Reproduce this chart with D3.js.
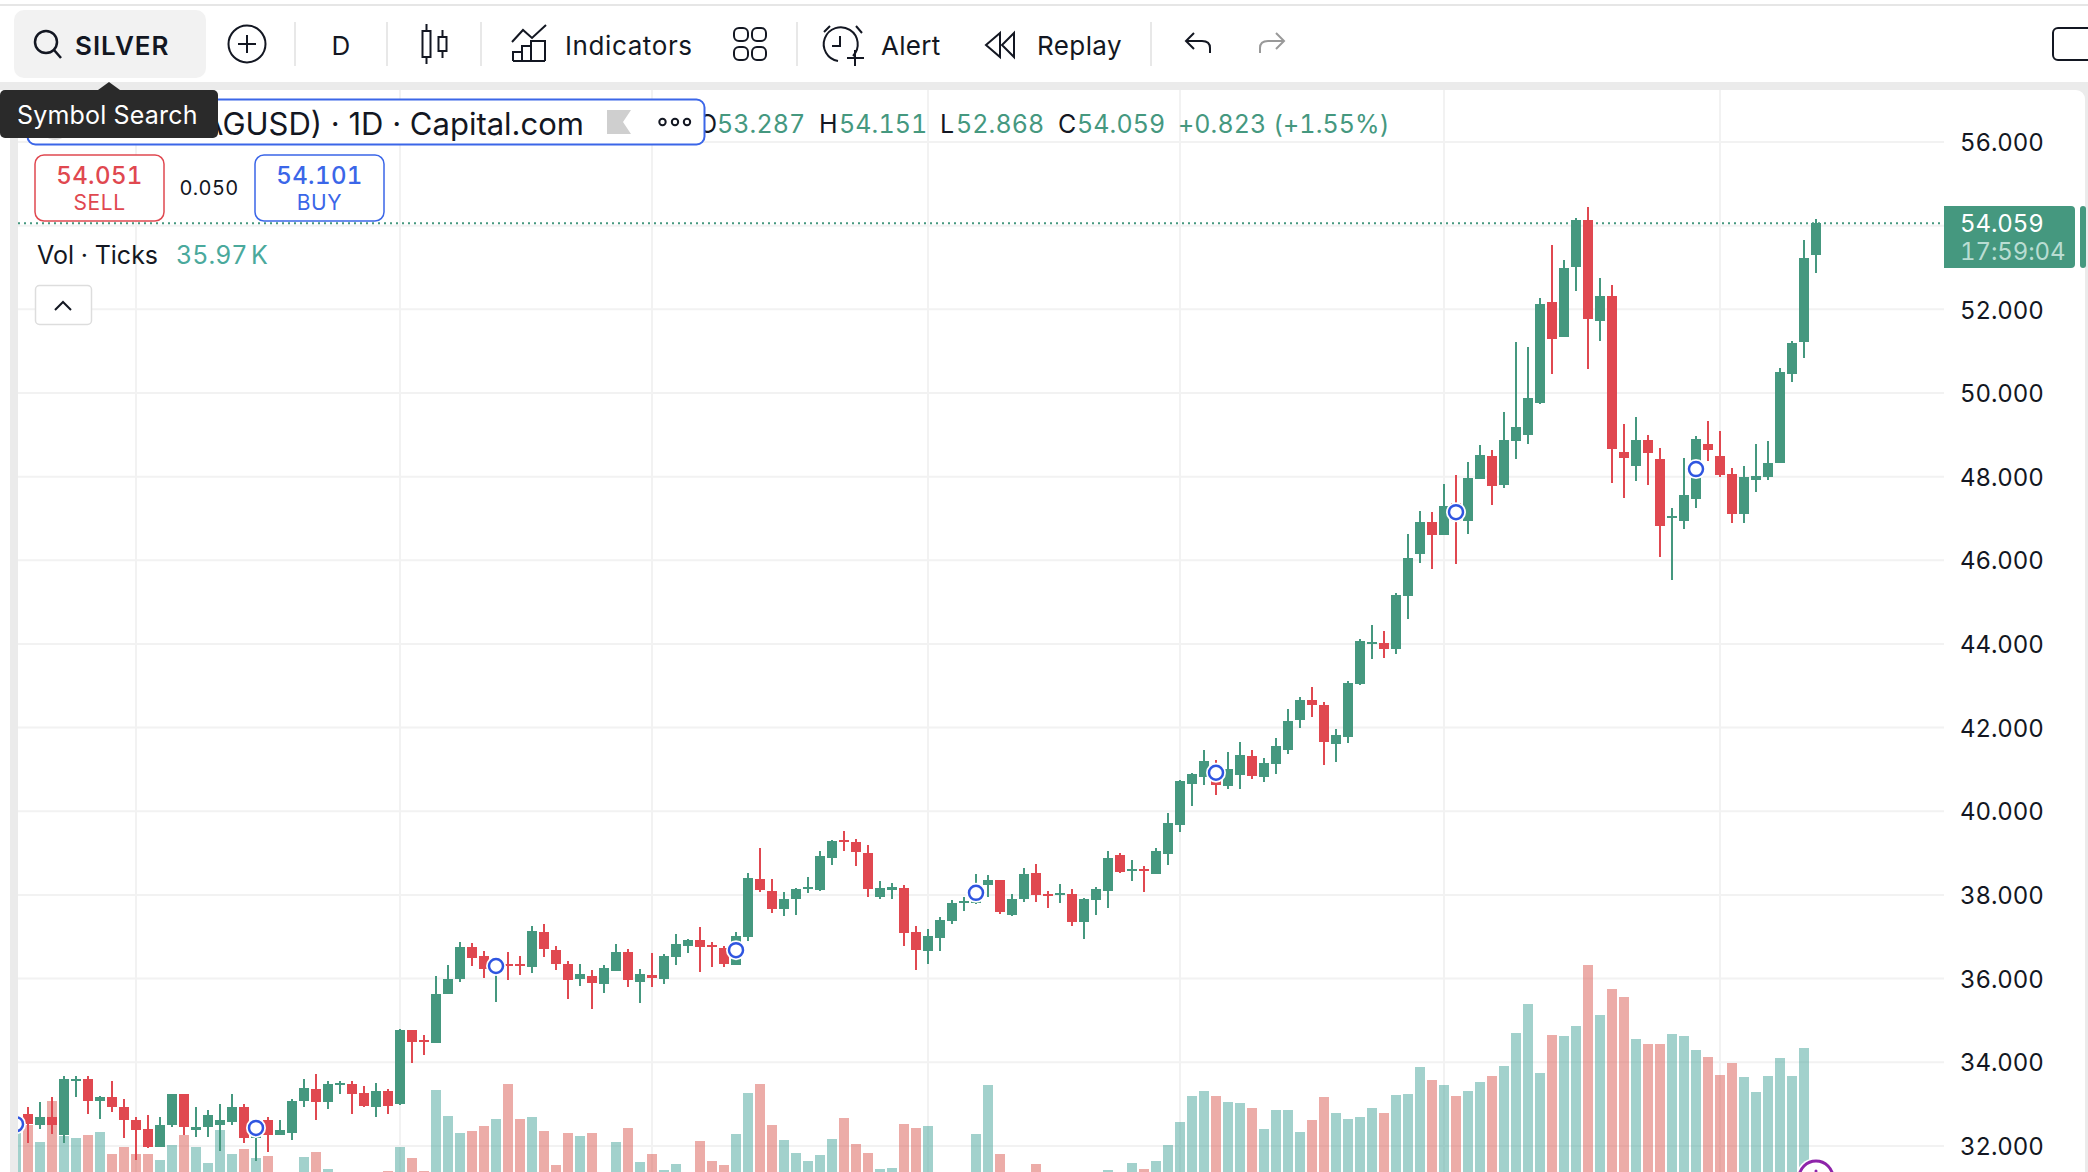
<!DOCTYPE html>
<html>
<head>
<meta charset="utf-8">
<script src="https://cdnjs.cloudflare.com/ajax/libs/d3/7.8.5/d3.min.js"></script>
<style>
  html, body { margin: 0; padding: 0; background: #fff; overflow: hidden; }
  text { font-family: Inter, "Noto Sans", sans-serif; font-variant-numeric: tabular-nums; font-feature-settings: "tnum" 1; }
</style>
</head>
<body>
<script>
// Daily candles, oldest first
var opens = [
  32.39,32.77,32.49,32.68,32.25,33.56,33.59,33.08,33.16,32.92,
  32.61,32.41,31.98,32.49,33.25,32.39,32.44,32.51,32.58,32.94,
  32.20,32.63,32.27,32.32,33.08,33.35,33.06,33.47,33.49,33.27,
  32.92,33.32,32.99,34.76,34.54,34.45,35.62,35.98,36.76,36.55,
  36.14,36.35,36.35,36.28,37.12,36.69,36.35,35.99,36.06,35.87,
  36.18,36.64,35.92,36.09,35.99,36.52,36.78,36.92,36.81,36.73,
  36.33,37.00,38.38,38.10,37.67,37.90,38.14,38.12,38.89,39.31,
  39.27,39.00,37.95,38.12,38.16,37.11,36.65,36.96,37.37,37.80,
  37.80,38.23,38.35,37.51,37.90,38.52,38.02,37.99,38.02,37.35,
  37.87,38.09,38.95,38.57,38.61,38.49,38.97,39.67,40.65,40.81,
  41.14,40.60,40.86,41.31,40.81,41.12,41.46,42.18,42.66,42.54,
  41.60,41.78,43.04,44.00,44.02,43.88,45.15,46.15,46.92,46.61,
  47.36,46.94,47.94,48.49,47.80,48.85,48.99,49.75,52.17,51.35,
  53.00,54.13,51.71,52.31,48.58,48.25,48.87,48.41,47.02,46.95,
  47.47,48.77,48.49,48.07,47.11,47.91,47.98,48.32,50.45,51.21,
  53.287]
var closes = [
  32.67,32.53,32.68,32.49,33.59,33.61,33.08,33.16,32.92,32.61,
  32.39,31.98,32.49,33.23,32.44,32.46,32.73,32.61,32.92,32.20,
  32.53,32.27,32.37,33.08,33.39,33.04,33.49,33.51,33.25,32.96,
  33.32,32.96,34.76,34.49,34.49,35.64,35.98,36.76,36.50,36.22,
  36.43,36.30,36.30,37.14,36.71,36.35,35.97,36.11,35.90,36.26,
  36.64,35.97,36.11,36.02,36.54,36.83,36.92,36.76,36.76,36.35,
  37.02,38.41,38.12,37.67,37.90,38.14,38.19,38.93,39.29,39.27,
  39.03,38.14,38.17,38.19,37.08,36.68,37.01,37.39,37.80,37.85,
  38.19,38.35,37.59,37.90,38.49,37.99,37.97,38.04,37.35,37.90,
  38.14,38.88,38.54,38.61,38.57,39.04,39.71,40.72,40.88,41.19,
  40.62,41.00,41.34,40.84,41.15,41.55,42.16,42.66,42.54,41.65,
  41.82,43.07,44.07,44.05,43.88,45.17,46.06,46.92,46.61,47.30,
  46.95,47.97,48.52,47.78,48.88,49.19,49.87,52.12,51.28,52.98,
  54.13,51.76,52.33,48.65,48.44,48.87,48.56,46.83,47.07,47.55,
  48.91,48.63,48.03,47.11,48.00,48.01,48.32,50.49,51.19,53.22,
  54.059]
var highs = [
  32.79,32.94,33.06,33.16,33.68,33.68,33.68,33.20,33.54,33.11,
  32.68,32.73,32.68,33.25,33.25,32.94,32.87,32.99,33.23,32.99,
  32.55,32.70,32.63,33.13,33.59,33.71,33.54,33.56,33.54,33.44,
  33.51,33.35,34.80,34.76,34.66,36.07,36.33,36.88,36.84,36.65,
  36.49,36.64,36.54,37.26,37.31,36.78,36.42,36.35,36.21,36.33,
  36.83,36.71,36.23,36.61,36.59,37.07,36.95,37.23,36.88,36.78,
  37.12,38.53,39.12,38.38,38.07,38.17,38.43,39.05,39.31,39.53,
  39.34,39.20,38.33,38.29,38.23,37.25,37.18,37.47,37.87,37.94,
  38.49,38.47,38.35,38.02,38.64,38.73,38.09,38.25,38.14,37.92,
  38.18,39.04,39.00,38.83,38.69,39.12,39.95,40.74,40.91,41.46,
  41.22,41.41,41.65,41.46,41.27,41.74,42.45,42.73,42.97,42.61,
  41.97,43.12,44.12,44.45,44.31,45.22,46.63,47.18,47.16,47.82,
  48.04,48.35,48.76,48.64,49.55,51.22,51.09,52.26,53.53,53.17,
  54.18,54.44,52.74,52.57,49.27,49.42,48.99,48.69,47.26,48.45,
  48.98,49.32,49.08,48.21,48.26,48.77,48.84,50.59,51.24,53.65,
  54.151]
var lows = [
  32.31,32.08,32.41,32.29,32.08,33.18,32.77,32.65,32.80,32.18,
  31.67,31.94,31.98,32.44,32.25,32.22,32.22,31.89,32.51,32.08,
  31.65,31.86,32.25,32.13,32.94,32.61,32.89,33.25,32.77,32.92,
  32.70,32.77,32.97,33.97,34.18,34.45,35.62,35.93,36.31,36.02,
  35.44,35.97,36.09,36.14,36.52,36.21,35.51,35.83,35.27,35.66,
  36.18,35.80,35.42,35.80,35.87,36.33,36.61,36.16,36.28,36.28,
  36.33,36.90,38.07,37.57,37.50,37.52,38.05,38.10,38.72,39.05,
  38.69,37.95,37.90,37.90,36.77,36.20,36.34,36.65,37.30,37.61,
  37.79,37.94,37.54,37.49,37.83,37.83,37.68,37.80,37.25,36.94,
  37.51,37.68,38.52,38.33,38.06,38.49,38.71,39.50,40.12,40.62,
  40.38,40.53,40.53,40.77,40.69,40.88,41.36,41.99,42.25,41.10,
  41.17,41.63,43.02,43.64,43.67,43.76,44.60,45.94,45.79,46.61,
  45.91,46.63,47.94,47.32,47.73,48.42,48.77,49.73,50.45,51.35,
  52.43,50.57,51.24,47.84,47.48,47.89,47.79,46.09,45.54,46.76,
  47.26,48.37,47.98,46.88,46.88,47.63,47.91,48.32,50.27,50.83,
  52.868]
// Tick volume in thousands, bars under the crop are estimates
var volumes = [
  55.7,58.3,52.7,66.3,54.7,54,55,56,48.7,51,
  48.7,48.7,46.7,51.7,55,51,45.7,56.7,48.7,50.3,
  47.3,48,41,40,47.7,49.3,43.7,40,38,39,
  41,43,51,47.3,43,70,61.3,55.7,56.3,58,
  60.3,72,60.3,61,56.3,45,55.7,54.7,55.7,41,
  52.7,57.3,46,48.7,43.3,45.3,41,53,46.3,45,
  55.3,69,72,58.3,53.3,49,46.3,48.3,53.7,60.7,
  52,49,43.7,44,58.7,57.3,58,41,40,41,
  55.3,71.7,48.7,41,40,45.3,39,41,40,41,
  42,43.3,41,45.7,43.7,46.3,51.7,59.3,68,69.7,
  68,66,65.7,64,57,63.3,63.3,56,60,67.7,
  62.3,60.3,61,64,62.3,68.3,68.7,77.7,73.3,71.7,
  68,69.7,72.7,74.7,78,89,98.7,75.7,88.3,88,
  91.3,111.7,95,103.7,101,87,85.3,85.3,88.7,88,
  83.3,81,75,79,74.3,69.3,74.7,80.7,74.7,84,
  35.97]
var priceTicks = [32,34,36,38,40,42,44,46,48,50,52,54,56]
// 54 sits behind the last price label, so it gets a grid line but no text
var priceLabels = [32,34,36,38,40,42,44,46,48,50,52,56]
var gridBars = [10,32,53,76,97,119,142]
var eventBars = [0,20,40,60,80,100,120,140]
var eventPrices = [32.52,32.43,36.30,36.68,38.05,40.92,47.15,48.18]

var width = 2088, height = 1172
var plot = {left:18, right:1944, top:90, bottom:1172}
var green = '#45987f', red = '#e04850', blue = '#3b66e8', band = '#ebebeb', ink = '#131722'

var svg = d3.select('body').append('svg')
  .attr('width', width).attr('height', height)
  .style('display', 'block')

var x = d3.scaleLinear().domain([0, 150]).range([16, 1816])
var y = d3.scaleLinear().domain([32, 56]).range([1145.9, 142])
var yVol = d3.scaleLinear().domain([0, 100]).range([1300, 1000])

var isUp = function(i){ return closes[i] >= opens[i] }
var bars = d3.range(opens.length)

// Page frame
svg.append('rect').attr('width', width).attr('height', height).attr('fill', '#fff')
svg.append('rect').attr('x', 0).attr('y', 4).attr('width', width).attr('height', 2).attr('fill', '#e6e6e6')
svg.append('rect').attr('x', 0).attr('y', 82).attr('width', width).attr('height', 8).attr('fill', band)
svg.append('rect').attr('x', 10).attr('y', 82).attr('width', 8).attr('height', height - 82).attr('fill', band)
svg.append('rect').attr('x', 2085).attr('y', 82).attr('width', 3).attr('height', height - 82).attr('fill', band)
svg.append('path').attr('d', 'M2076 90 H2085 V99 A9 9 0 0 0 2076 90 Z').attr('fill', band)

svg.append('clipPath').attr('id', 'plot-clip').append('rect')
  .attr('x', plot.left).attr('y', plot.top)
  .attr('width', plot.right - plot.left).attr('height', plot.bottom - plot.top)

var chart = svg.append('g').attr('clip-path', 'url(#plot-clip)')

// Grid
chart.append('g').selectAll('line').data(priceTicks).enter().append('line')
  .attr('x1', plot.left).attr('x2', plot.right)
  .attr('y1', function(d){ return y(d) }).attr('y2', function(d){ return y(d) })
  .attr('stroke', '#f2f2f2').attr('stroke-width', 2)
chart.append('g').selectAll('line').data(gridBars).enter().append('line')
  .attr('x1', function(d){ return x(d) }).attr('x2', function(d){ return x(d) })
  .attr('y1', plot.top).attr('y2', plot.bottom)
  .attr('stroke', '#f2f2f2').attr('stroke-width', 2)

// Volume
chart.append('g').selectAll('rect').data(bars).enter().append('rect')
  .attr('x', function(i){ return x(i) - 5 })
  .attr('width', 10)
  .attr('y', function(i){ return yVol(volumes[i]) })
  .attr('height', function(i){ return yVol(0) - yVol(volumes[i]) })
  .attr('fill', function(i){ return isUp(i) ? '#45a399' : '#d95951' })
  .attr('fill-opacity', 0.5)
  .attr('shape-rendering', 'crispEdges')

// Last price line
chart.append('line')
  .attr('x1', plot.left).attr('x2', plot.right)
  .attr('y1', y(closes[150])).attr('y2', y(closes[150]))
  .attr('stroke', green).attr('stroke-width', 2).attr('stroke-dasharray', '2,4')

// Candles
var candles = chart.append('g').attr('shape-rendering', 'crispEdges')
candles.selectAll('.wick').data(bars).enter().append('rect')
  .attr('class', 'wick')
  .attr('x', function(i){ return x(i) - 1 })
  .attr('width', 2)
  .attr('y', function(i){ return y(highs[i]) })
  .attr('height', function(i){ return y(lows[i]) - y(highs[i]) })
  .attr('fill', function(i){ return isUp(i) ? green : red })
candles.selectAll('.body').data(bars).enter().append('rect')
  .attr('class', 'body')
  .attr('x', function(i){ return x(i) - 5 })
  .attr('width', 10)
  .attr('y', function(i){ return y(Math.max(opens[i], closes[i])) })
  .attr('height', function(i){ return Math.max(2, Math.abs(y(opens[i]) - y(closes[i]))) })
  .attr('fill', function(i){ return isUp(i) ? green : red })

// Event markers
var events = chart.append('g').selectAll('g').data(eventBars).enter().append('g')
  .attr('transform', function(d, k){ return 'translate(' + x(d) + ',' + y(eventPrices[k]) + ')' })
events.append('circle').attr('r', 10).attr('fill', '#fff')
events.append('circle').attr('r', 7).attr('fill', '#fff').attr('stroke', '#2f55e0').attr('stroke-width', 2.5)

chart.append('circle').attr('cx', x(150)).attr('cy', 1178).attr('r', 20).attr('fill', '#fff')
chart.append('circle').attr('cx', x(150)).attr('cy', 1178).attr('r', 17)
  .attr('fill', '#fff').attr('stroke', '#8e24aa').attr('stroke-width', 3)
chart.append('circle').attr('cx', x(150)).attr('cy', 1171).attr('r', 1.5).attr('fill', '#8e24aa')

// Price axis
var axis = svg.append('g').attr('transform', 'translate(1960,1)')
  .call(d3.axisRight(y).tickValues(priceLabels).tickSize(0).tickPadding(0)
    .tickFormat(function(d){ return d3.format('.3f')(d) }))
axis.select('.domain').remove()
axis.selectAll('text').style('font-family', 'Inter, sans-serif').style('font-size', '24px')
  .style('letter-spacing', '-0.1px').attr('fill', ink)

// Last price label
svg.append('path').attr('d', 'M1944 206 H2071 Q2075 206 2075 210 V264 Q2075 268 2071 268 H1944 Z').attr('fill', green)
svg.append('rect').attr('x', 2080).attr('y', 206).attr('width', 6).attr('height', 62).attr('rx', 3).attr('fill', green)
var addText = function(parent, str, px, py, size, color, opts) {
  opts = opts || {}
  return parent.append('text').attr('x', px).attr('y', py).text(str)
    .attr('fill', color).attr('font-size', size)
    .attr('text-anchor', opts.anchor || 'start')
    .attr('font-weight', opts.weight || 400)
    .style('letter-spacing', (opts.spacing || 0) + 'px')
    .attr('dominant-baseline', 'central')
}
addText(svg, '54.059', 1960, 223, 24, '#fff', {spacing:-0.1})
addText(svg, '17:59:04', 1960, 251, 24, '#b9ddd2', {spacing:-0.1})

// Legend
addText(svg, 'O', 698, 124, 25, ink)
svg.append('rect').attr('x', 27.5).attr('y', 99.5).attr('width', 677).attr('height', 45).attr('rx', 8)
  .attr('fill', '#fff').attr('stroke', blue).attr('stroke-width', 2)
svg.append('circle').attr('cx', 55).attr('cy', 127).attr('r', 13).attr('fill', '#ddd')
addText(svg, '(XAGUSD) · 1D · Capital.com', 584, 123, 31, ink, {anchor:'end'})
  .style('font-feature-settings', '"tnum" 0').style('font-variant-numeric', 'normal')
svg.append('path').attr('d', 'M607 110 H631 L623 122 L631 134 H607 Z').attr('fill', '#cfcfcf')
svg.append('g').selectAll('circle').data([662.5,675,687]).enter().append('circle')
  .attr('cx', function(d){ return d }).attr('cy', 122).attr('r', 3.2)
  .attr('fill', 'none').attr('stroke', ink).attr('stroke-width', 2)

var ohlc = [
  ['53.287', 717, green], ['H', 819, ink], ['54.151', 839, green], ['L', 940, ink], ['52.868', 956, green],
  ['C', 1058, ink], ['54.059', 1077, green], ['+0.823 (+1.55%)', 1178, green]
]
ohlc.forEach(function(t){ addText(svg, t[0], t[1], 124, 25, t[2], {spacing:0.1}) })

// Sell and buy boxes
var tradeBox = function(left, color, price, label) {
  svg.append('rect').attr('x', left).attr('y', 155).attr('width', 129).attr('height', 66).attr('rx', 9)
    .attr('fill', '#fff').attr('stroke', color).attr('stroke-width', 1.5)
  addText(svg, price, left + 64.5, 175, 24, color, {anchor:'middle', weight:500, spacing:0.4})
  addText(svg, label, left + 64.5, 202, 21, color, {anchor:'middle', spacing:0.6})
}
tradeBox(35, red, '54.051', 'SELL')
tradeBox(255, blue, '54.101', 'BUY')
addText(svg, '0.050', 209, 188, 20, ink, {anchor:'middle', spacing:0.4})

addText(svg, 'Vol · Ticks', 37, 255, 25, ink)
addText(svg, '35.97', 176, 255, 25, '#4aa99c')
addText(svg, 'K', 251, 255, 25, '#4aa99c')
svg.append('rect').attr('x', 35.5).attr('y', 285.5).attr('width', 56).attr('height', 39).attr('rx', 4)
  .attr('fill', '#fff').attr('stroke', '#ddd').attr('stroke-width', 1.5)
svg.append('path').attr('d', 'M55 310 L63 302 L71 310').attr('fill', 'none').attr('stroke', ink).attr('stroke-width', 2)

// Toolbar
var tool = svg.append('g').attr('fill', 'none').attr('stroke', ink).attr('stroke-width', 2)
svg.insert('rect', 'g').attr('x', 14).attr('y', 10).attr('width', 192).attr('height', 68).attr('rx', 10).attr('fill', '#f2f2f2')
tool.append('circle').attr('cx', 46).attr('cy', 42).attr('r', 11).attr('stroke-width', 2.5)
tool.append('path').attr('d', 'M54 50 L61 58').attr('stroke-width', 2.5)
addText(svg, 'SILVER', 75, 45, 26, ink, {weight:600, spacing:1})
tool.append('circle').attr('cx', 247).attr('cy', 44).attr('r', 18.5)
tool.append('path').attr('d', 'M238 44 H256 M247 35 V53')
svg.append('g').selectAll('line').data([295,387,481,797,1151]).enter().append('line')
  .attr('x1', function(d){ return d }).attr('x2', function(d){ return d })
  .attr('y1', 22).attr('y2', 66).attr('stroke', '#e8e8e8').attr('stroke-width', 2)
addText(svg, 'D', 341, 45, 26, ink, {anchor:'middle'})
tool.append('rect').attr('x', 422.5).attr('y', 31).attr('width', 8).attr('height', 26)
tool.append('path').attr('d', 'M426.5 24 V31 M426.5 57 V64 M442.5 30 V37 M442.5 51 V58')
tool.append('rect').attr('x', 438.5).attr('y', 37).attr('width', 8).attr('height', 14)
tool.append('path').attr('d', 'M512 42 L523 30 L532 38 L546 25')
tool.append('path').attr('d', 'M513 61 V52 H522 V61 M522 61 V46 H531 V61 M531 61 V41 H545 V61 M513 61 H545')
addText(svg, 'Indicators', 565, 45, 26, ink, {spacing:0.6})
;[[734,28],[752,28],[734,47],[752,47]].forEach(function(p){
  tool.append('rect').attr('x', p[0]).attr('y', p[1]).attr('width', 14).attr('height', 13).attr('rx', 5)
})
tool.append('path').attr('d', 'M853 56 A17 17 0 1 0 838 61')
tool.append('path').attr('d', 'M840 36 V46 H832 M824 32 L830 26 M856 26 L862 33 M855 50 V66 M847 58 H864')
addText(svg, 'Alert', 881, 45, 26, ink, {spacing:0.3})
tool.append('path').attr('d', 'M1000 33 L986 45 L1000 57 Z M1014 33 L1002 45 L1014 57 Z')
addText(svg, 'Replay', 1037, 45, 26, ink, {spacing:0.4})
tool.append('path').attr('d', 'M1210 53 V48 Q1210 41 1202 41 H1186 M1194 33 L1186 41 L1194 49')
tool.append('path').attr('d', 'M1260 53 V48 Q1260 41 1268 41 H1284 M1276 33 L1284 41 L1276 49').attr('stroke', '#999')
tool.append('rect').attr('x', 2053).attr('y', 28).attr('width', 60).attr('height', 32).attr('rx', 5)

// Symbol search tooltip
svg.append('path').attr('d', 'M98 90 L109 82 L120 90 Z').attr('fill', '#2a2a2a')
svg.append('rect').attr('x', 0).attr('y', 90).attr('width', 218).attr('height', 48).attr('rx', 5).attr('fill', '#2a2a2a')
addText(svg, 'Symbol Search', 17, 115, 25, '#fff', {spacing:0.2})
</script>
</body>
</html>
